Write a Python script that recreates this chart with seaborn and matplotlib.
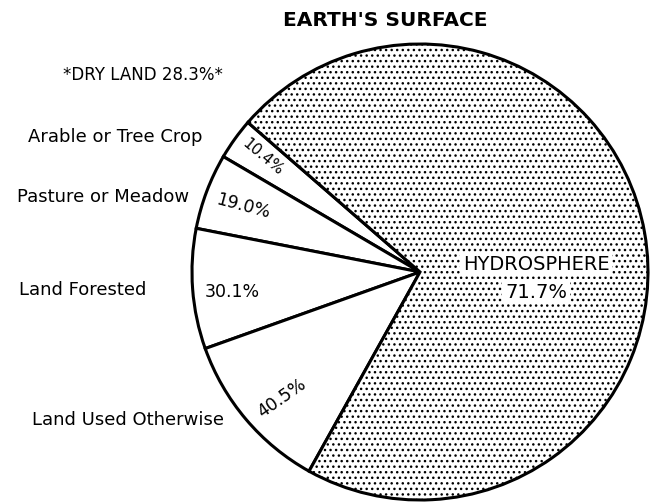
import matplotlib.pyplot as plt
import seaborn as sns

# Data: share of Earth's surface, dry land split by use
hydro_pct = 71.7
dry_pct = 28.3
land_uses = ['Arable or Tree Crop', 'Pasture or Meadow', 'Land Forested', 'Land Used Otherwise']
land_pct = [10.4, 19.0, 30.1, 40.5]

sns.set_theme(style='white')
plt.rcParams['font.family'] = ['DejaVu Sans']
plt.rcParams['text.color'] = 'black'
plt.rcParams['hatch.linewidth'] = 1.0

fig = plt.figure(figsize=(6.52, 5.04), dpi=100)
ax = fig.add_axes([0, 0, 1, 1])

# wedge sizes on the whole surface
sizes = [dry_pct * p / 100 for p in land_pct] + [hydro_pct]
wedges, _ = ax.pie(sizes, center=(420, 232), radius=228, startangle=139,
                   counterclock=True, frame=True,
                   wedgeprops=dict(edgecolor='black', linewidth=2.2, facecolor='white'))
wedges[-1].set_hatch('...')

ax.set_xlim(0, 652)
ax.set_ylim(0, 504)
ax.set_aspect('equal')
ax.axis('off')

def y(v):
    return 504 - v

ax.text(385, y(20), "EARTH'S SURFACE", ha='center', va='center',
        fontsize=14.5, fontweight='bold')
ax.text(143, y(75), f'*DRY LAND {dry_pct}%*', ha='center', va='center', fontsize=12)

label_pos = [(115, 137), (103, 197), (83, 290), (128, 420)]
for name, (lx, ly) in zip(land_uses, label_pos):
    ax.text(lx, y(ly), name, ha='center', va='center', fontsize=13)

pct_pos = [(263, 157, -40), (243, 206, -15), (232, 292, 0), (282, 398, 35)]
pct_size = [11, 12.5, 12.5, 12.5]
for p, (px, py, rot), fs in zip(land_pct, pct_pos, pct_size):
    ax.text(px, y(py), f'{p}%', ha='center', va='center', fontsize=fs, rotation=rot)

ax.text(536, y(264), 'HYDROSPHERE', ha='center', va='center', fontsize=14,
        bbox=dict(facecolor='white', edgecolor='none', pad=2))
ax.text(536, y(292), f'{hydro_pct}%', ha='center', va='center', fontsize=14,
        bbox=dict(facecolor='white', edgecolor='none', pad=2))

fig.savefig('out.png', dpi=100)
